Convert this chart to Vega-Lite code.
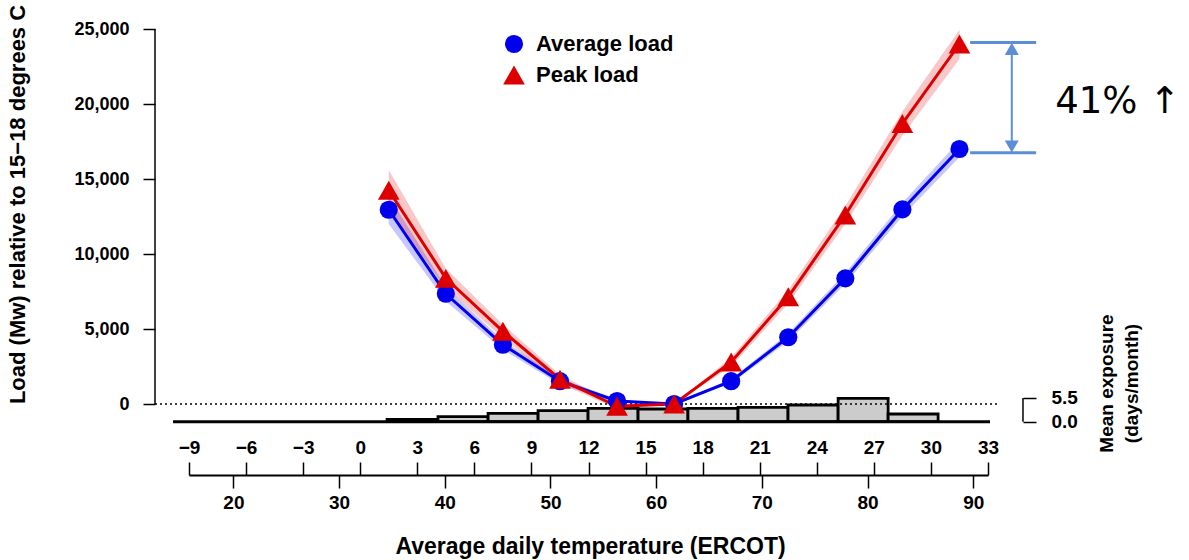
{
  "$schema": "https://vega.github.io/schema/vega-lite/v6.json",
  "width": 799,
  "height": 446,
  "autosize": "none",
  "padding": {"left": 189, "top": 29, "right": 201, "bottom": 85},
  "background": "white",
  "datasets": {
    "loads": [
      {"t": 1.5, "series": "Average load", "load": 12950, "lo": 12000, "hi": 13850},
      {"t": 4.5, "series": "Average load", "load": 7350, "lo": 6850, "hi": 7800},
      {"t": 7.5, "series": "Average load", "load": 3950, "lo": 3620, "hi": 4250},
      {"t": 10.5, "series": "Average load", "load": 1520, "lo": 1300, "hi": 1720},
      {"t": 13.5, "series": "Average load", "load": 200, "lo": 80, "hi": 320},
      {"t": 16.5, "series": "Average load", "load": 0, "lo": 0, "hi": 0},
      {"t": 19.5, "series": "Average load", "load": 1520, "lo": 1360, "hi": 1680},
      {"t": 22.5, "series": "Average load", "load": 4450, "lo": 4180, "hi": 4720},
      {"t": 25.5, "series": "Average load", "load": 8380, "lo": 8020, "hi": 8740},
      {"t": 28.5, "series": "Average load", "load": 12970, "lo": 12520, "hi": 13420},
      {"t": 31.5, "series": "Average load", "load": 17000, "lo": 16450, "hi": 17550},
      {"t": 1.5, "series": "Peak load", "load": 14250, "lo": 12950, "hi": 15600},
      {"t": 4.5, "series": "Peak load", "load": 8380, "lo": 7730, "hi": 9030},
      {"t": 7.5, "series": "Peak load", "load": 4850, "lo": 4400, "hi": 5300},
      {"t": 10.5, "series": "Peak load", "load": 1650, "lo": 1350, "hi": 1950},
      {"t": 13.5, "series": "Peak load", "load": -150, "lo": -300, "hi": 0},
      {"t": 16.5, "series": "Peak load", "load": 0, "lo": 0, "hi": 0},
      {"t": 19.5, "series": "Peak load", "load": 2800, "lo": 2500, "hi": 3100},
      {"t": 22.5, "series": "Peak load", "load": 7150, "lo": 6700, "hi": 7600},
      {"t": 25.5, "series": "Peak load", "load": 12600, "lo": 12000, "hi": 13200},
      {"t": 28.5, "series": "Peak load", "load": 18700, "lo": 17900, "hi": 19500},
      {"t": 31.5, "series": "Peak load", "load": 24000, "lo": 23000, "hi": 24950}
    ],
    "hist": [
      {"f0": 34.54, "f1": 39.36, "days": 0.55},
      {"f0": 39.36, "f1": 44.10, "days": 1.15},
      {"f0": 44.10, "f1": 48.83, "days": 1.94},
      {"f0": 48.83, "f1": 53.56, "days": 2.54},
      {"f0": 53.56, "f1": 58.29, "days": 3.09},
      {"f0": 58.29, "f1": 63.01, "days": 2.93},
      {"f0": 63.01, "f1": 67.75, "days": 3.09},
      {"f0": 67.75, "f1": 72.48, "days": 3.33},
      {"f0": 72.48, "f1": 77.22, "days": 3.86},
      {"f0": 77.22, "f1": 81.95, "days": 5.40},
      {"f0": 81.95, "f1": 86.68, "days": 1.78}
    ],
    "histbase": [{"x": 14.29, "x2": 91.59, "y": 0}],
    "bracket": [{"x": 94.71, "y": 0, "y2": 5.5}],
    "dotted": [{"x": -10.787, "x2": 33.63, "y": 0}],
    "yline": [{"x": -10.787, "y": 0, "y2": 25000}],
    "annh": [{"x": 32.06, "x2": 35.53, "y": 24100}, {"x": 32.06, "x2": 35.53, "y": 16750}],
    "annv": [{"x": 34.25, "y": 16900, "y2": 23900}],
    "arrowup": [{"x": 34.25, "y": 23673}],
    "arrowdown": [{"x": 34.25, "y": 17167}],
    "label": [{"x": 36.53, "y": 20150, "text": "41% ↑"}]
  },
  "resolve": {"scale": {"x": "independent", "y": "independent"}, "axis": {"x": "independent", "y": "independent"}},
  "layer": [
    {
      "data": {"name": "hist"},
      "mark": {"type": "rect", "fill": "#cccccc", "stroke": "black", "strokeWidth": 2.8},
      "encoding": {
        "x": {"field": "f0", "type": "quantitative",
          "scale": {"domain": [15.8, 91.4], "nice": false, "zero": false},
          "axis": {"orient": "bottom", "values": [20, 30, 40, 50, 60, 70, 80, 90], "domain": false,
            "tickSize": 13, "tickWidth": 1.5, "labelPadding": 5, "labelFontSize": 19, "labelFontWeight": "bold",
            "labelFlush": false, "labelOverlap": false, "grid": false,
            "title": "Average daily temperature (ERCOT)", "titleFontSize": 23, "titleFontWeight": "bold",
            "titleX": 401, "titleY": 71, "titleAlign": "center", "titleBaseline": "middle", "titleAngle": 0}},
        "x2": {"field": "f1"},
        "y": {"field": "days", "type": "quantitative",
          "scale": {"domain": [-12.31, 90.69], "nice": false, "zero": false},
          "axis": {"orient": "right", "values": [0, 5.5], "format": ".1f", "domain": false, "offset": 35,
            "tickSize": 13, "tickWidth": 1.5, "labelPadding": 15, "labelFontSize": 19, "labelFontWeight": "bold",
            "labelOverlap": false, "labelBaseline": "middle", "grid": false,
            "title": ["Mean exposure", "(days/month)"], "titleFontSize": 19, "titleFontWeight": "bold",
            "titleAngle": 270, "titleX": 83, "titleY": 354, "titleAlign": "center", "titleBaseline": "middle",
            "titleLineHeight": 25}},
        "y2": {"datum": 0}
      }
    },
    {
      "data": {"name": "histbase"},
      "mark": {"type": "rule", "stroke": "black", "strokeWidth": 3},
      "encoding": {
        "x": {"field": "x", "type": "quantitative", "scale": {"domain": [15.8, 91.4], "nice": false, "zero": false}, "axis": null},
        "x2": {"field": "x2"},
        "y": {"field": "y", "type": "quantitative", "scale": {"domain": [-12.31, 90.69], "nice": false, "zero": false}, "axis": null}
      }
    },
    {
      "data": {"name": "bracket"},
      "mark": {"type": "rule", "stroke": "black", "strokeWidth": 1.5},
      "encoding": {
        "x": {"field": "x", "type": "quantitative", "scale": {"domain": [15.8, 91.4], "nice": false, "zero": false}, "axis": null},
        "y": {"field": "y", "type": "quantitative", "scale": {"domain": [-12.31, 90.69], "nice": false, "zero": false}, "axis": null},
        "y2": {"field": "y2"}
      }
    },
    {
      "data": {"name": "loads"},
      "mark": {"type": "area", "fillOpacity": 0.22},
      "encoding": {
        "x": {"field": "t", "type": "quantitative",
          "scale": {"domain": [-9, 33], "nice": false, "zero": false},
          "axis": {"orient": "top", "offset": -446, "values": [-9, -6, -3, 0, 3, 6, 9, 12, 15, 18, 21, 24, 27, 30, 33],
            "domain": true, "domainWidth": 2, "tickSize": 13, "tickWidth": 1.5, "labelPadding": 5,
            "labelFontSize": 19, "labelFontWeight": "bold", "labelFlush": false, "labelOverlap": false,
            "grid": false, "title": null}},
        "y": {"field": "lo", "type": "quantitative",
          "scale": {"domain": [-4733, 25000], "nice": false, "zero": false},
          "axis": {"orient": "left", "offset": 34, "values": [0, 5000, 10000, 15000, 20000, 25000], "format": ",d",
            "domain": false, "tickSize": 12, "tickWidth": 1.5, "labelPadding": 14, "labelFontSize": 18,
            "labelFontWeight": "bold", "grid": false,
            "title": "Load (Mw) relative to 15−18 degrees C", "titleFontSize": 22, "titleFontWeight": "bold",
            "titleAngle": 270, "titleX": -138, "titleY": 175, "titleAlign": "center", "titleBaseline": "middle"}},
        "y2": {"field": "hi"},
        "fill": {"field": "series", "type": "nominal", "scale": {"range": ["#0000ee", "#dd0000"]}, "legend": null}
      }
    },
    {
      "data": {"name": "dotted"},
      "mark": {"type": "rule", "stroke": "black", "strokeWidth": 1.5, "strokeDash": [2, 3]},
      "encoding": {
        "x": {"field": "x", "type": "quantitative", "scale": {"domain": [-9, 33], "nice": false, "zero": false}, "axis": null},
        "x2": {"field": "x2"},
        "y": {"field": "y", "type": "quantitative", "scale": {"domain": [-4733, 25000], "nice": false, "zero": false}, "axis": null}
      }
    },
    {
      "data": {"name": "yline"},
      "mark": {"type": "rule", "stroke": "black", "strokeWidth": 1.5},
      "encoding": {
        "x": {"field": "x", "type": "quantitative", "scale": {"domain": [-9, 33], "nice": false, "zero": false}, "axis": null},
        "y": {"field": "y", "type": "quantitative", "scale": {"domain": [-4733, 25000], "nice": false, "zero": false}, "axis": null},
        "y2": {"field": "y2"}
      }
    },
    {
      "data": {"name": "loads"},
      "mark": {"type": "line", "strokeWidth": 3},
      "encoding": {
        "x": {"field": "t", "type": "quantitative", "scale": {"domain": [-9, 33], "nice": false, "zero": false}, "axis": null},
        "y": {"field": "load", "type": "quantitative", "scale": {"domain": [-4733, 25000], "nice": false, "zero": false}, "axis": null},
        "stroke": {"field": "series", "type": "nominal", "scale": {"range": ["#0000ee", "#dd0000"]}, "legend": null}
      }
    },
    {
      "data": {"name": "loads"},
      "mark": {"type": "point", "filled": true, "opacity": 1},
      "encoding": {
        "x": {"field": "t", "type": "quantitative", "scale": {"domain": [-9, 33], "nice": false, "zero": false}, "axis": null},
        "y": {"field": "load", "type": "quantitative", "scale": {"domain": [-4733, 25000], "nice": false, "zero": false}, "axis": null},
        "color": {"field": "series", "type": "nominal",
          "scale": {"domain": ["Average load", "Peak load"], "range": ["#0000ee", "#dd0000"]},
          "legend": {"orient": "none", "legendX": 314, "legendY": 4, "title": null}},
        "shape": {"field": "series", "type": "nominal",
          "scale": {"domain": ["Average load", "Peak load"], "range": ["circle", "triangle-up"]},
          "legend": {"orient": "none", "legendX": 314, "legendY": 4, "title": null}},
        "size": {"field": "series", "type": "nominal",
          "scale": {"domain": ["Average load", "Peak load"], "range": [330, 470]},
          "legend": {"orient": "none", "legendX": 314, "legendY": 4, "title": null}}
      }
    },
    {
      "data": {"name": "annh"},
      "mark": {"type": "rule", "stroke": "#5b8ed6", "strokeWidth": 3},
      "encoding": {
        "x": {"field": "x", "type": "quantitative", "scale": {"domain": [-9, 33], "nice": false, "zero": false}, "axis": null},
        "x2": {"field": "x2"},
        "y": {"field": "y", "type": "quantitative", "scale": {"domain": [-4733, 25000], "nice": false, "zero": false}, "axis": null}
      }
    },
    {
      "data": {"name": "annv"},
      "mark": {"type": "rule", "stroke": "#5b8ed6", "strokeWidth": 2},
      "encoding": {
        "x": {"field": "x", "type": "quantitative", "scale": {"domain": [-9, 33], "nice": false, "zero": false}, "axis": null},
        "y": {"field": "y", "type": "quantitative", "scale": {"domain": [-4733, 25000], "nice": false, "zero": false}, "axis": null},
        "y2": {"field": "y2"}
      }
    },
    {
      "data": {"name": "arrowup"},
      "mark": {"type": "point", "shape": "triangle-up", "filled": true, "opacity": 1, "color": "#5b8ed6", "size": 196},
      "encoding": {
        "x": {"field": "x", "type": "quantitative", "scale": {"domain": [-9, 33], "nice": false, "zero": false}, "axis": null},
        "y": {"field": "y", "type": "quantitative", "scale": {"domain": [-4733, 25000], "nice": false, "zero": false}, "axis": null}
      }
    },
    {
      "data": {"name": "arrowdown"},
      "mark": {"type": "point", "shape": "triangle-down", "filled": true, "opacity": 1, "color": "#5b8ed6", "size": 196},
      "encoding": {
        "x": {"field": "x", "type": "quantitative", "scale": {"domain": [-9, 33], "nice": false, "zero": false}, "axis": null},
        "y": {"field": "y", "type": "quantitative", "scale": {"domain": [-4733, 25000], "nice": false, "zero": false}, "axis": null}
      }
    },
    {
      "data": {"name": "label"},
      "mark": {"type": "text", "font": "DejaVu Sans", "fontSize": 37, "align": "left", "baseline": "middle", "color": "black"},
      "encoding": {
        "x": {"field": "x", "type": "quantitative", "scale": {"domain": [-9, 33], "nice": false, "zero": false}, "axis": null},
        "y": {"field": "y", "type": "quantitative", "scale": {"domain": [-4733, 25000], "nice": false, "zero": false}, "axis": null},
        "text": {"field": "text"}
      }
    }
  ],
  "config": {
    "view": {"stroke": null},
    "font": "Liberation Sans",
    "axis": {"domainColor": "black", "tickColor": "black", "labelColor": "black", "titleColor": "black",
      "labelFont": "Liberation Sans", "titleFont": "Liberation Sans"},
    "legend": {"labelFont": "Liberation Sans", "labelFontSize": 22, "labelFontWeight": "bold", "labelColor": "black",
      "rowPadding": 9, "labelOffset": 11, "padding": 0, "symbolStrokeWidth": 0,
      "symbolOpacity": 1}
  }
}
